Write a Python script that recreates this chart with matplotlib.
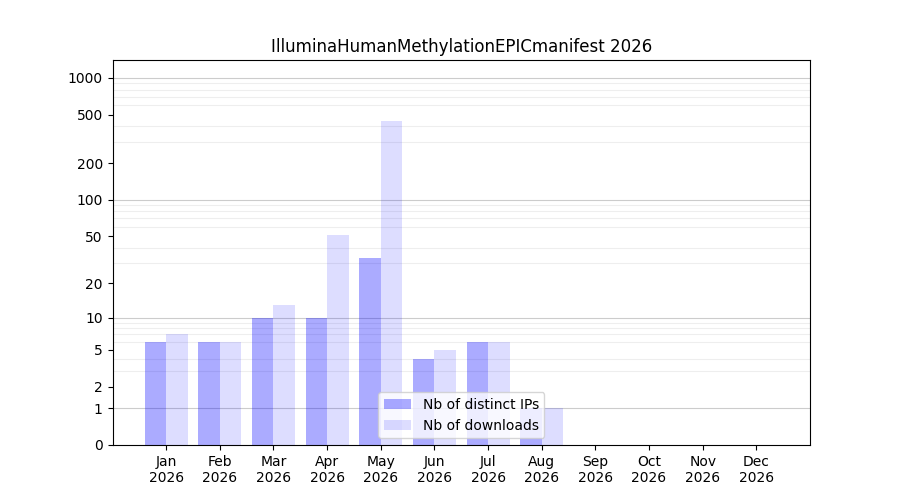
import numpy as np
import matplotlib
matplotlib.use("Agg")
import matplotlib.pyplot as plt

# monthly stats
months = ["Jan", "Feb", "Mar", "Apr", "May", "Jun",
          "Jul", "Aug", "Sep", "Oct", "Nov", "Dec"]
year = 2026
distinct_ips = [6, 6, 10, 10, 33, 4, 6, 1, 0, 0, 0, 0]
downloads = [7, 6, 13, 51, 445, 5, 6, 1, 0, 0, 0, 0]
ytick_vals = [0, 1, 2, 5, 10, 20, 50, 100, 200, 500, 1000]
major_grid = [1, 10, 100, 1000]
minor_grid = [m * 10**k for k in range(3) for m in range(2, 10)]


def fwd(y):
    return np.log10(1 + np.clip(y, 0, None))


def inv(y):
    return 10**y - 1


fig, ax = plt.subplots(figsize=(9, 5), dpi=100)
x = np.arange(1, len(months) + 1)
w = 0.4

ax.set_yscale("function", functions=(fwd, inv))
ax.set_yticks(ytick_vals)
ax.set_yticklabels([str(v) for v in ytick_vals])
ax.set_yticks(minor_grid, minor=True)
ax.tick_params(axis="y", which="minor", length=0)
ax.grid(axis="y", which="minor", color="#eeeeee", linewidth=0.8, zorder=0)
for v in major_grid:
    ax.axhline(v, color="#cccccc", linewidth=0.8, zorder=1)

ax.bar(x - w / 2, distinct_ips, width=w, color="blue", alpha=0.33,
       label="Nb of distinct IPs", zorder=2)
ax.bar(x + w / 2, downloads, width=w, color="blue", alpha=0.135,
       label="Nb of downloads", zorder=2)

ax.set_ylim(0, 1400)
ax.set_xlim(0, 13)
ax.set_xticks(x)
ax.set_xticklabels([f"{m}\n{year}" for m in months])
ax.set_title(f"IlluminaHumanMethylationEPICmanifest {year}")
ax.legend(loc="lower center")

fig.savefig("out.png")
